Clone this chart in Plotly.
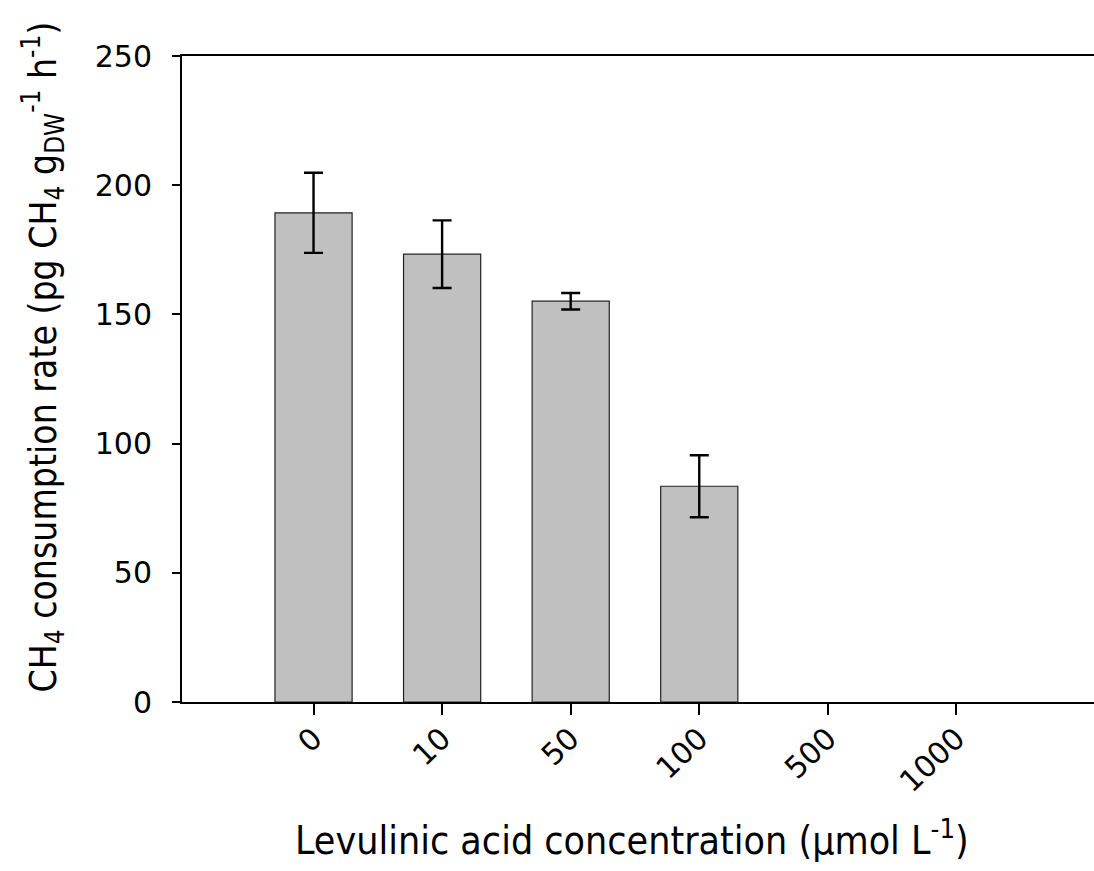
import plotly.graph_objects as go

categories = ["0", "10", "50", "100", "500", "1000"]
rates = [189.3, 173.3, 155.1, 83.5, 0, 0]
errors = [15.5, 13.1, 3.2, 12.0, 0, 0]
y_ticks = [0, 50, 100, 150, 200, 250]

FONT = "DejaVu Sans Condensed, DejaVu Sans, sans-serif"
TICKFONT = "DejaVu Sans, sans-serif"

xpos = list(range(len(categories)))

fig = go.Figure()
fig.add_trace(go.Bar(
    x=xpos,
    y=rates,
    width=0.6,
    marker=dict(color="#c0c0c0",
                line=dict(color="#222222",
                          width=[1.2 if v > 0 else 0 for v in rates])),
    showlegend=False,
    hoverinfo="skip",
))
# error bars only where a bar is drawn
keep = [i for i, v in enumerate(rates) if v > 0]
fig.add_trace(go.Scatter(
    x=[xpos[i] for i in keep],
    y=[rates[i] for i in keep],
    mode="markers",
    marker=dict(size=1, color="rgba(0,0,0,0)"),
    error_y=dict(type="data", array=[errors[i] for i in keep],
                 visible=True, color="black", thickness=2.4, width=9.5),
    showlegend=False,
))

L, R, T, B = 181.7, 0, 56, 169.3
W, H = 1094, 871
pw = W - L - R
ph = H - T - B

fig.update_layout(
    width=W, height=H,
    margin=dict(l=L, r=R, t=T, b=B, pad=0),
    plot_bgcolor="white", paper_bgcolor="white",
    font=dict(family=FONT, color="black", size=30),
    bargap=0.4,
    xaxis=dict(
        range=[-1.023, 6.07],
        tickmode="array",
        tickvals=xpos,
        ticktext=categories,
        tickangle=-44,
        showline=True, linecolor="black", linewidth=2, mirror=True,
        ticks="outside", ticklen=11, tickwidth=2, tickcolor="black",
        tickfont=dict(size=30, family=TICKFONT),
        showgrid=False, zeroline=False,
        ticklabelstandoff=-6,
    ),
    yaxis=dict(
        range=[0, 250],
        tickmode="array",
        tickvals=y_ticks,
        ticktext=[str(v) for v in y_ticks],
        showline=True, linecolor="black", linewidth=2, mirror=False,
        ticks="outside", ticklen=8, tickwidth=2, tickcolor="black",
        tickfont=dict(size=30, family=TICKFONT),
        showgrid=False, zeroline=False,
        ticklabelstandoff=14,
    ),
)

fig.add_annotation(
    text="Levulinic acid concentration (\u03bcmol L<sup>-1</sup>)",
    xref="paper", yref="paper",
    x=(632 - L) / pw, y=(H - B - 838) / ph,
    xanchor="center", yanchor="middle", showarrow=False,
    font=dict(size=39, family=FONT),
)
fig.add_annotation(
    text="CH<sub>4</sub> consumption rate (pg CH<sub>4</sub> g<sub>DW</sub><sup>-1</sup> h<sup>-1</sup>)",
    xref="paper", yref="paper",
    x=(42 - L) / pw, y=(H - B - 357) / ph,
    xanchor="center", yanchor="middle", showarrow=False, textangle=-90,
    font=dict(size=37, family=FONT),
)

fig.write_html("out.html")
